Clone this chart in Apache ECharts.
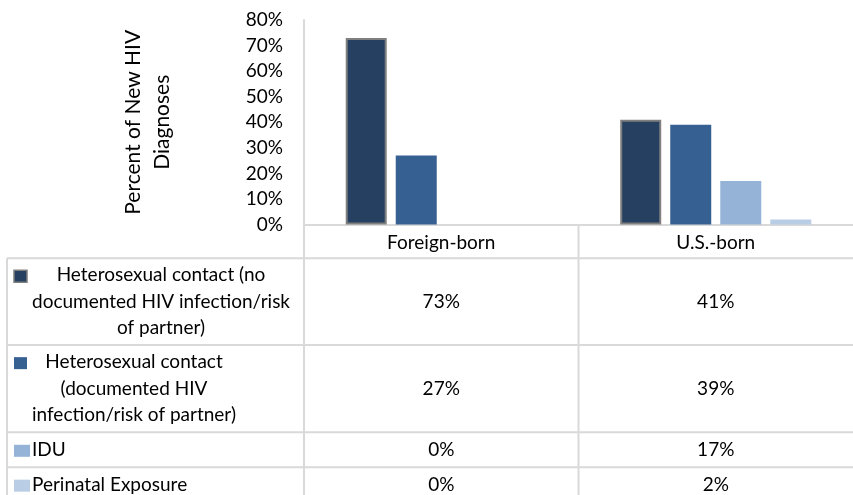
<!DOCTYPE html>
<html>
<head>
<meta charset="utf-8">
<script src="https://cdn.jsdelivr.net/npm/echarts@6/dist/echarts.min.js"></script>
<style>
  html, body { margin: 0; padding: 0; background: #ffffff; }
  #chart { width: 853px; height: 495px; }
</style>
</head>
<body>
<div id="chart"></div>
<script>
// Birth place groups on the category axis
const categories = ['Foreign-born', 'U.S.-born'];

// Transmission categories (one series each)
const seriesNames = [
  'Heterosexual contact (no documented HIV infection/risk of partner)',
  'Heterosexual contact (documented HIV infection/risk of partner)',
  'IDU',
  'Perinatal Exposure'
];
// Wrapped labels shown in the data table rows
const rowLabelLines = [
  ['Heterosexual contact (no', 'documented HIV infection/risk', 'of partner)'],
  ['Heterosexual contact', '(documented HIV', 'infection/risk of partner)'],
  ['IDU'],
  ['Perinatal Exposure']
];

// Percent of new HIV diagnoses
const heteroNoDocumented = [73, 41];
const heteroDocumented = [27, 39];
const iduValues = [0, 17];
const perinatalValues = [0, 2];
const seriesValues = [heteroNoDocumented, heteroDocumented, iduValues, perinatalValues];

// Value axis ticks
const yMin = 0;
const yMax = 80;
const yStep = 10;

const colors = ['#254061', '#376092', '#95B3D7', '#B9CDE5'];
const FONT = 'Lato, "Open Sans", sans-serif';
const FS = 19;
const GRID_LINE = '#d9d9d9';

const chart = echarts.init(document.getElementById('chart'), null, { renderer: 'canvas' });

const series = seriesNames.map((name, i) => ({
  name: name,
  type: 'bar',
  data: seriesValues[i],
  barWidth: 41,
  barGap: '22%',
  itemStyle: i === 0
    ? { color: colors[i], borderColor: '#7f7f7f', borderWidth: 2 }
    : { color: colors[i] },
  emphasis: { disabled: true },
  animation: false
}));

chart.setOption({
  animation: false,
  textStyle: { fontFamily: FONT },
  grid: { left: 304, top: 20, width: 556, height: 204.5, containLabel: false },
  xAxis: {
    type: 'category',
    data: categories,
    axisLine: { show: true, lineStyle: { color: GRID_LINE, width: 2 } },
    axisTick: { show: false },
    axisLabel: { color: '#000', fontSize: FS, fontFamily: FONT, margin: 8, lineHeight: 20 }
  },
  yAxis: {
    type: 'value',
    min: yMin,
    max: yMax,
    interval: yStep,
    name: 'Percent of New HIV\nDiagnoses',
    nameLocation: 'middle',
    nameRotate: 90,
    nameGap: 127,
    nameTextStyle: { color: '#000', fontSize: 21, fontFamily: FONT, lineHeight: 29 },
    axisLine: { show: true, lineStyle: { color: GRID_LINE, width: 2 } },
    axisTick: { show: false },
    splitLine: { show: false },
    axisLabel: {
      formatter: '{value}%',
      color: '#000',
      fontSize: FS,
      fontFamily: FONT,
      margin: 21,
      padding: [4, 0, 0, 0]
    }
  },
  series: series
});

// Data table beneath the plot
const rowTops = [258.3, 345, 432.3, 467.3];
const rowBottoms = [345, 432.3, 467.3, 502];
const tableLeft = 7;
const tableRight = 853;
const axisX = 304;
const baseY = 224.5;
const lineH = 26.5;

const measure = (function () {
  const ctx = document.createElement('canvas').getContext('2d');
  ctx.font = FS + 'px ' + FONT;
  return function (t) { return ctx.measureText(t).width; };
})();

const graphics = [];
function hLine(x1, x2, y) {
  graphics.push({ type: 'line', silent: true, shape: { x1: x1, y1: y, x2: x2, y2: y },
    style: { stroke: GRID_LINE, lineWidth: 2 } });
}
function vLine(x, y1, y2) {
  graphics.push({ type: 'line', silent: true, shape: { x1: x, y1: y1, x2: x, y2: y2 },
    style: { stroke: GRID_LINE, lineWidth: 2 } });
}

rowTops.forEach(y => hLine(tableLeft, tableRight, y));
vLine(tableLeft, rowTops[0], 495);
vLine(axisX, baseY, 495);
const catX = categories.map((c, i) => chart.convertToPixel({ xAxisIndex: 0 }, i));
const dividerX = (catX[0] + catX[1]) / 2;
vLine(dividerX, baseY, 495);

// Row labels with colour keys
const keySizes = [[13, 12], [13, 12], [16, 12], [16, 12]];
rowLabelLines.forEach((lines, r) => {
  const center = (rowTops[r] + rowBottoms[r]) / 2;
  const firstLineY = center - (lines.length - 1) * lineH / 2;
  const textLeft = 32;
  const keyW = keySizes[r][0], keyH = keySizes[r][1];
  graphics.push({
    type: 'rect', silent: true,
    shape: { x: 14, y: firstLineY + 1 - keyH / 2, width: keyW, height: keyH },
    style: r === 0
      ? { fill: colors[r], stroke: '#7f7f7f', lineWidth: 1.5 }
      : { fill: colors[r] }
  });
  if (lines.length > 1) {
    const maxW = Math.max.apply(null, lines.map(measure));
    graphics.push({
      type: 'text', silent: true,
      x: textLeft + maxW / 2, y: center,
      style: { text: lines.join('\n'), fontSize: FS, fontFamily: FONT, fill: '#000',
        align: 'center', verticalAlign: 'middle', lineHeight: lineH }
    });
  } else {
    graphics.push({
      type: 'text', silent: true,
      x: textLeft, y: center,
      style: { text: lines[0], fontSize: FS, fontFamily: FONT, fill: '#000',
        align: 'left', verticalAlign: 'middle', lineHeight: lineH }
    });
  }
  // Values per category
  seriesValues[r].forEach((v, c) => {
    graphics.push({
      type: 'text', silent: true,
      x: catX[c], y: center,
      style: { text: v + '%', fontSize: FS, fontFamily: FONT, fill: '#000',
        align: 'center', verticalAlign: 'middle', lineHeight: lineH }
    });
  });
});

chart.setOption({ graphic: graphics });
</script>
</body>
</html>
